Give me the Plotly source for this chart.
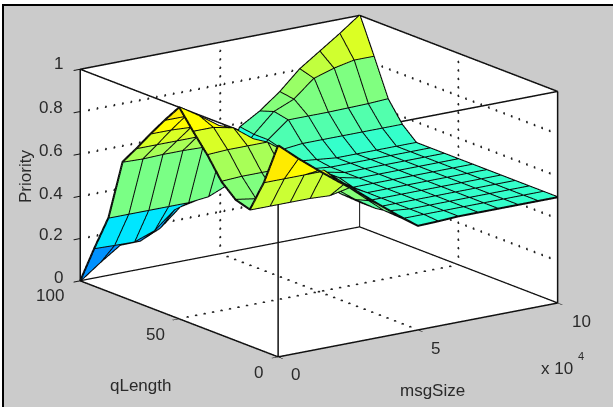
import plotly.graph_objects as go

msgSize = [i * 100000 / 14 for i in range(15)]
qLength = [100 - i * 100 / 14 for i in range(15)]  # row order below: q=100 first

# Priority; one row per qLength value, one column per msgSize value
row_q100 = [0.00, 0.07, 0.134, 0.135, 0.178, 0.26, 0.28, 0.33, 0.58, 0.637, 0.71, 0.80, 0.865, 0.93, 1.00]
row_q93 = [0.18, 0.177, 0.175, 0.21, 0.29, 0.34, 0.40, 0.46, 0.57, 0.66, 0.70, 0.78, 0.81, 0.83, 0.83]
row_q86 = [0.35, 0.35, 0.35, 0.35, 0.35, 0.36, 0.40, 0.47, 0.57, 0.646, 0.646, 0.646, 0.648, 0.65, 0.655]
row_q79 = [0.64, 0.637, 0.64, 0.64, 0.637, 0.62, 0.58, 0.55, 0.55, 0.56, 0.56, 0.56, 0.56, 0.56, 0.56]
row_q71 = [0.73, 0.73, 0.73, 0.73, 0.70, 0.66, 0.60, 0.55, 0.52, 0.51, 0.50, 0.50, 0.50, 0.50, 0.50]
row_q64 = [0.825, 0.825, 0.82, 0.78, 0.72, 0.66, 0.60, 0.55, 0.51, 0.50, 0.50, 0.50, 0.50, 0.50, 0.50]
row_q57 = [0.915, 0.915, 0.88, 0.81, 0.75, 0.69, 0.63, 0.57, 0.52, 0.50, 0.50, 0.50, 0.50, 0.50, 0.50]
row_q50 = [1.00, 0.94, 0.875, 0.81, 0.75, 0.69, 0.63, 0.57, 0.52, 0.50, 0.50, 0.50, 0.50, 0.50, 0.50]
row_q43 = [0.91, 0.91, 0.89, 0.82, 0.76, 0.69, 0.63, 0.56, 0.50, 0.50, 0.50, 0.50, 0.50, 0.50, 0.50]
row_q36 = [0.825, 0.83, 0.83, 0.83, 0.76, 0.69, 0.62, 0.55, 0.50, 0.50, 0.50, 0.50, 0.50, 0.50, 0.50]
row_q29 = [0.725, 0.73, 0.73, 0.73, 0.70, 0.63, 0.56, 0.50, 0.50, 0.50, 0.50, 0.50, 0.50, 0.50, 0.50]
row_q21 = [0.665, 0.65, 0.65, 0.65, 0.65, 0.63, 0.56, 0.50, 0.50, 0.50, 0.50, 0.50, 0.50, 0.50, 0.50]
row_q14 = [0.645, 0.645, 0.645, 0.645, 0.64, 0.66, 0.58, 0.51, 0.50, 0.50, 0.50, 0.50, 0.50, 0.50, 0.50]
row_q7 = [0.80, 0.80, 0.80, 0.80, 0.72, 0.64, 0.56, 0.50, 0.50, 0.50, 0.50, 0.50, 0.50, 0.50, 0.50]
row_q0 = [1.00, 0.92, 0.846, 0.775, 0.707, 0.632, 0.56, 0.492, 0.495, 0.50, 0.50, 0.50, 0.50, 0.50, 0.50]
priority = [row_q100, row_q93, row_q86, row_q79, row_q71, row_q64, row_q57, row_q50,
            row_q43, row_q36, row_q29, row_q21, row_q14, row_q7, row_q0]

msg_ticks = [0, 50000, 100000]
msg_labels = ["0", "5", "10"]
q_ticks = [0, 50, 100]
q_labels = ["0", "50", "100"]
z_ticks = [0, 0.2, 0.4, 0.6, 0.8, 1]
z_labels = ["0", "0.2", "0.4", "0.6", "0.8", "1"]

GRAY = "#cbcbcb"
INK = "#111111"
TXT = "#2a2a2a"
FONT = "Liberation Sans"
W, H = 613, 407

n_q, n_m = len(qLength), len(msgSize)
vx, vy, vz, ti, tj, tk, cell = [], [], [], [], [], [], []
for a in range(n_q):
    for b in range(n_m):
        vx.append(msgSize[b]); vy.append(qLength[a]); vz.append(priority[a][b])
for a in range(n_q - 1):
    for b in range(n_m - 1):
        p = a * n_m + b
        for tri in ((p, p + 1, p + n_m), (p + 1, p + n_m + 1, p + n_m)):
            ti.append(tri[0]); tj.append(tri[1]); tk.append(tri[2])
            # MATLAB flat facets take the colour of the corner with smallest msgSize and qLength
            cell.append(priority[a + 1][b])

lx, ly, lz = [], [], []
for a in range(n_q):
    lx += msgSize + [None]; ly += [qLength[a]] * n_m + [None]; lz += priority[a] + [None]
for b in range(n_m):
    lx += [msgSize[b]] * n_q + [None]; ly += qLength + [None]; lz += [priority[a][b] for a in range(n_q)] + [None]

X0, X1, Y0, Y1, Z0, Z1 = 0, 100000, 0, 100, 0, 1
bx, by, bz = [], [], []
for s in ([(X0, Y0, Z0), (X1, Y0, Z0), (X1, Y1, Z0), (X0, Y1, Z0), (X0, Y0, Z0)],
          [(X0, Y0, Z1), (X1, Y0, Z1), (X1, Y1, Z1), (X0, Y1, Z1), (X0, Y0, Z1)],
          [(X0, Y0, Z0), (X0, Y0, Z1)], [(X1, Y0, Z0), (X1, Y0, Z1)],
          [(X1, Y1, Z0), (X1, Y1, Z1)], [(X0, Y1, Z0), (X0, Y1, Z1)]):
    for p in s:
        bx.append(p[0]); by.append(p[1]); bz.append(p[2])
    bx.append(None); by.append(None); bz.append(None)

# dotted grid: real dots along the wall and floor grid lines
gx, gy, gz = [], [], []
def dots(a, b, n):
    for t in range(1, n):
        f = t / n
        gx.append(a[0] + (b[0] - a[0]) * f); gy.append(a[1] + (b[1] - a[1]) * f); gz.append(a[2] + (b[2] - a[2]) * f)
for z in z_ticks[1:-1]:
    dots((X0, Y1, z), (X1, Y1, z), 33)
    dots((X1, Y0, z), (X1, Y1, z), 26)
dots((msg_ticks[1], Y1, Z0), (msg_ticks[1], Y1, Z1), 25)
dots((X1, q_ticks[1], Z0), (X1, q_ticks[1], Z1), 25)
dots((msg_ticks[1], Y0, Z0), (msg_ticks[1], Y1, Z0), 26)
dots((X0, q_ticks[1], Z0), (X1, q_ticks[1], Z0), 33)

fig = go.Figure()
fig.add_trace(go.Scatter3d(x=gx, y=gy, z=gz, mode="markers", scene="scene", hoverinfo="skip",
                           marker=dict(color="#222222", size=1.5, line=dict(width=0)), showlegend=False))
fig.add_trace(go.Scatter3d(x=bx, y=by, z=bz, mode="lines", scene="scene", hoverinfo="skip",
                           line=dict(color=INK, width=3), showlegend=False))
fig.add_trace(go.Mesh3d(x=vx, y=vy, z=vz, i=ti, j=tj, k=tk, scene="scene2",
                        intensity=cell, intensitymode="cell", cmin=-0.37, cmax=1.67,
                        colorscale=[[0, "rgb(0,0,143)"], [0.125, "rgb(0,0,255)"], [0.375, "rgb(0,255,255)"],
                                    [0.625, "rgb(255,255,0)"], [0.68, "rgb(255,232,0)"], [0.875, "rgb(255,0,0)"],
                                    [1, "rgb(128,0,0)"]],
                        showscale=False, flatshading=True, hoverinfo="skip",
                        lighting=dict(ambient=1, diffuse=0, specular=0, fresnel=0)))
fig.add_trace(go.Scatter3d(x=lx, y=ly, z=lz, mode="lines", scene="scene2", hoverinfo="skip",
                           line=dict(color="#0a0a0a", width=4), showlegend=False))

S = 2.0
C = (-0.0635, 0.016, -0.082)
cam = dict(eye=dict(x=-0.556 * S + C[0], y=-0.785 * S + C[1], z=0.272 * S + C[2]), up=dict(x=0, y=0, z=1),
           center=dict(x=C[0], y=C[1], z=C[2]), projection=dict(type="orthographic"))
K = 1.683
aspect = dict(x=K, y=K, z=0.642 * K)
dom = dict(x=[0, 1], y=[0, 1])

def axis(rng, tv):
    return dict(range=rng, autorange=False, tickvals=tv, title=dict(text=""), showticklabels=False,
                showgrid=False, zeroline=False, showline=False, showspikes=False,
                showbackground=True, backgroundcolor="white", ticks="outside", ticklen=8, tickwidth=2, tickcolor=INK)
hidden = dict(visible=False, showspikes=False)

def label(text, px, py, anchor="center", size=17, angle=0):
    fig.add_annotation(text=text, xref="paper", yref="paper", x=px / W, y=1 - py / H, xanchor=anchor, yanchor="middle",
                       showarrow=False, textangle=angle, font=dict(family=FONT, size=size, color=TXT))

for t, py in zip(z_labels, [277, 234, 193, 150, 108, 64]):
    label(t, 65, py, anchor="right")
for t, (px, py) in zip(msg_labels, [(295, 374), (435, 348), (581, 321)]):
    label(t, px, py)
for t, (px, py) in zip(q_labels, [(258, 372), (155, 334), (50, 295)]):
    label(t, px, py)
label("qLength", 140, 385)
label("msgSize", 432, 390)
label("Priority", 25, 177, angle=-90)
label("x 10", 557, 368)
label("4", 581, 356, size=11)

fig.update_layout(
    width=W, height=H, margin=dict(l=0, r=0, t=0, b=0), paper_bgcolor=GRAY, showlegend=False,
    shapes=[dict(type="rect", xref="paper", yref="paper", x0=0, x1=1, y0=1 - 4 / H, y1=1, fillcolor="white", line_width=0, layer="below"),
            dict(type="rect", xref="paper", yref="paper", x0=0, x1=2 / W, y0=0, y1=1, fillcolor="white", line_width=0, layer="below"),
            dict(type="rect", xref="paper", yref="paper", x0=2 / W, x1=1, y0=1 - 6 / H, y1=1 - 4 / H, fillcolor="black", line_width=0, layer="below"),
            dict(type="rect", xref="paper", yref="paper", x0=2 / W, x1=4 / W, y0=0, y1=1 - 4 / H, fillcolor="black", line_width=0, layer="below")],
    scene=dict(domain=dom, camera=cam, aspectmode="manual", aspectratio=aspect, bgcolor="rgba(0,0,0,0)",
               xaxis=axis([X0, X1], msg_ticks), yaxis=axis([Y0, Y1], q_ticks), zaxis=axis([Z0, Z1], z_ticks)),
    scene2=dict(domain=dom, camera=cam, aspectmode="manual", aspectratio=aspect, bgcolor="rgba(0,0,0,0)",
                xaxis=dict(hidden, range=[X0, X1], autorange=False), yaxis=dict(hidden, range=[Y0, Y1], autorange=False),
                zaxis=dict(hidden, range=[Z0, Z1], autorange=False)),
)
fig.write_html("out.html", config=dict(displayModeBar=False),
               post_script="document.body.style.margin='0';document.body.style.overflow='hidden';")
